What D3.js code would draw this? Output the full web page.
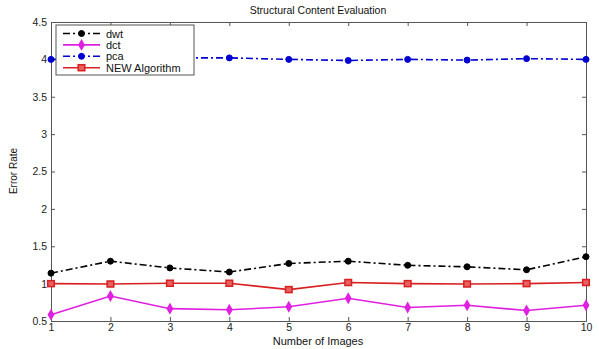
<!DOCTYPE html>
<html lang="en">
<head>
  <meta charset="UTF-8">
  <title>Structural Content Evaluation</title>
  <script src="https://d3js.org/d3.v7.min.js"></script>
  <style>
    body { margin: 0; background: #fff; font-family: Arial, "Liberation Sans", sans-serif; }
    .tick text { font-size: 10.5px; fill: #222; }
  </style>
</head>
<body>
<svg width="599" height="349"></svg>
<script>
const images = [1, 2, 3, 4, 5, 6, 7, 8, 9, 10];
const dwt = [1.14, 1.30, 1.21, 1.155, 1.27, 1.30, 1.245, 1.225, 1.185, 1.36];
const dct = [0.585, 0.835, 0.665, 0.65, 0.69, 0.805, 0.68, 0.71, 0.64, 0.71];
const pca = [4.0, 4.0, 4.02, 4.02, 4.0, 3.985, 4.0, 3.99, 4.01, 4.0];
const newAlg = [1.0, 0.995, 1.005, 1.005, 0.92, 1.015, 1.0, 0.995, 1.0, 1.015];
const yTicks = [0.5, 1, 1.5, 2, 2.5, 3, 3.5, 4, 4.5];

const series = [
  { name: "dwt", values: dwt, color: "#000", dash: "7,3,2,3", marker: "circle" },
  { name: "dct", values: dct, color: "#e020e0", dash: null, marker: "diamond" },
  { name: "pca", values: pca, color: "#0000d0", dash: "7,3,2,3", marker: "circle" },
  { name: "NEW Algorithm", values: newAlg, color: "#d82020", dash: null, marker: "square" }
];

const svg = d3.select("svg");
const m = { left: 51, right: 13, top: 22, bottom: 28 };
const W = 599, H = 349;

const x = d3.scaleLinear().domain([1, 10]).range([m.left, W - m.right]);
const y = d3.scaleLinear().domain([0.5, 4.5]).range([H - m.bottom, m.top]);

// axes (MATLAB style: inward ticks, box)
svg.append("g")
  .attr("transform", `translate(0,${H - m.bottom})`)
  .call(d3.axisBottom(x).tickValues(images).tickSizeInner(-4).tickSizeOuter(0).tickPadding(3))
  .call(g => g.select(".domain").attr("stroke", "#555"))
  .call(g => g.selectAll(".tick line").attr("stroke", "#555"));

svg.append("g")
  .attr("transform", `translate(${m.left},0)`)
  .call(d3.axisLeft(y).tickValues(yTicks).tickFormat(d3.format("")).tickSizeInner(-4).tickSizeOuter(0).tickPadding(4))
  .call(g => g.select(".domain").attr("stroke", "#555"))
  .call(g => g.selectAll(".tick line").attr("stroke", "#555"));

svg.append("g")
  .attr("transform", `translate(0,${m.top})`)
  .call(d3.axisTop(x).tickValues(images).tickSizeInner(-4).tickSizeOuter(0).tickFormat(""))
  .call(g => g.select(".domain").attr("stroke", "#555"))
  .call(g => g.selectAll(".tick line").attr("stroke", "#555"));

svg.append("g")
  .attr("transform", `translate(${W - m.right},0)`)
  .call(d3.axisRight(y).tickValues(yTicks).tickSizeInner(-4).tickSizeOuter(0).tickFormat(""))
  .call(g => g.select(".domain").attr("stroke", "#555"))
  .call(g => g.selectAll(".tick line").attr("stroke", "#555"));

function drawMarker(sel, s, cx, cy) {
  if (s.marker === "circle") {
    sel.append("circle").attr("cx", cx).attr("cy", cy).attr("r", 3)
      .attr("fill", s.color).attr("stroke", s.color);
  } else if (s.marker === "diamond") {
    sel.append("path").attr("d", d3.symbol(d3.symbolDiamond, 26)())
      .attr("transform", `translate(${cx},${cy})`)
      .attr("fill", s.color).attr("stroke", s.color).attr("stroke-width", 1.2);
  } else {
    sel.append("rect").attr("x", cx - 3.3).attr("y", cy - 3).attr("width", 6.6).attr("height", 6)
      .attr("fill", "#e86060").attr("stroke", s.color).attr("stroke-width", 1.5);
  }
}

const line = d3.line().x((d, i) => x(images[i])).y(d => y(d));

series.forEach(s => {
  const g = svg.append("g");
  g.append("path")
    .datum(s.values)
    .attr("d", line)
    .attr("fill", "none")
    .attr("stroke", s.color)
    .attr("stroke-width", 1.6)
    .attr("stroke-dasharray", s.dash);
  s.values.forEach((v, i) => drawMarker(g, s, x(images[i]), y(v)));
});

// legend
const lg = svg.append("g");
lg.append("rect").attr("x", 56).attr("y", 25).attr("width", 138).attr("height", 50)
  .attr("fill", "#fff").attr("stroke", "#555");
series.forEach((s, i) => {
  const ly = 33.5 + i * 11.4;
  lg.append("line").attr("x1", 63).attr("x2", 100).attr("y1", ly).attr("y2", ly)
    .attr("stroke", s.color).attr("stroke-width", 1.6).attr("stroke-dasharray", s.dash);
  drawMarker(lg, s, 81.5, ly);
  lg.append("text").attr("x", 106).attr("y", ly + 4).attr("font-size", 11)
    .attr("fill", "#111").text(s.name);
});

// labels
svg.append("text").attr("x", 318).attr("y", 14).attr("text-anchor", "middle")
  .attr("font-size", 10.5).attr("fill", "#111").text("Structural Content Evaluation");
svg.append("text").attr("x", 318).attr("y", 345).attr("text-anchor", "middle")
  .attr("font-size", 11).attr("fill", "#111").text("Number of Images");
svg.append("text").attr("transform", "translate(17,171) rotate(-90)").attr("text-anchor", "middle")
  .attr("font-size", 10).attr("fill", "#111").text("Error Rate");
</script>
</body>
</html>
